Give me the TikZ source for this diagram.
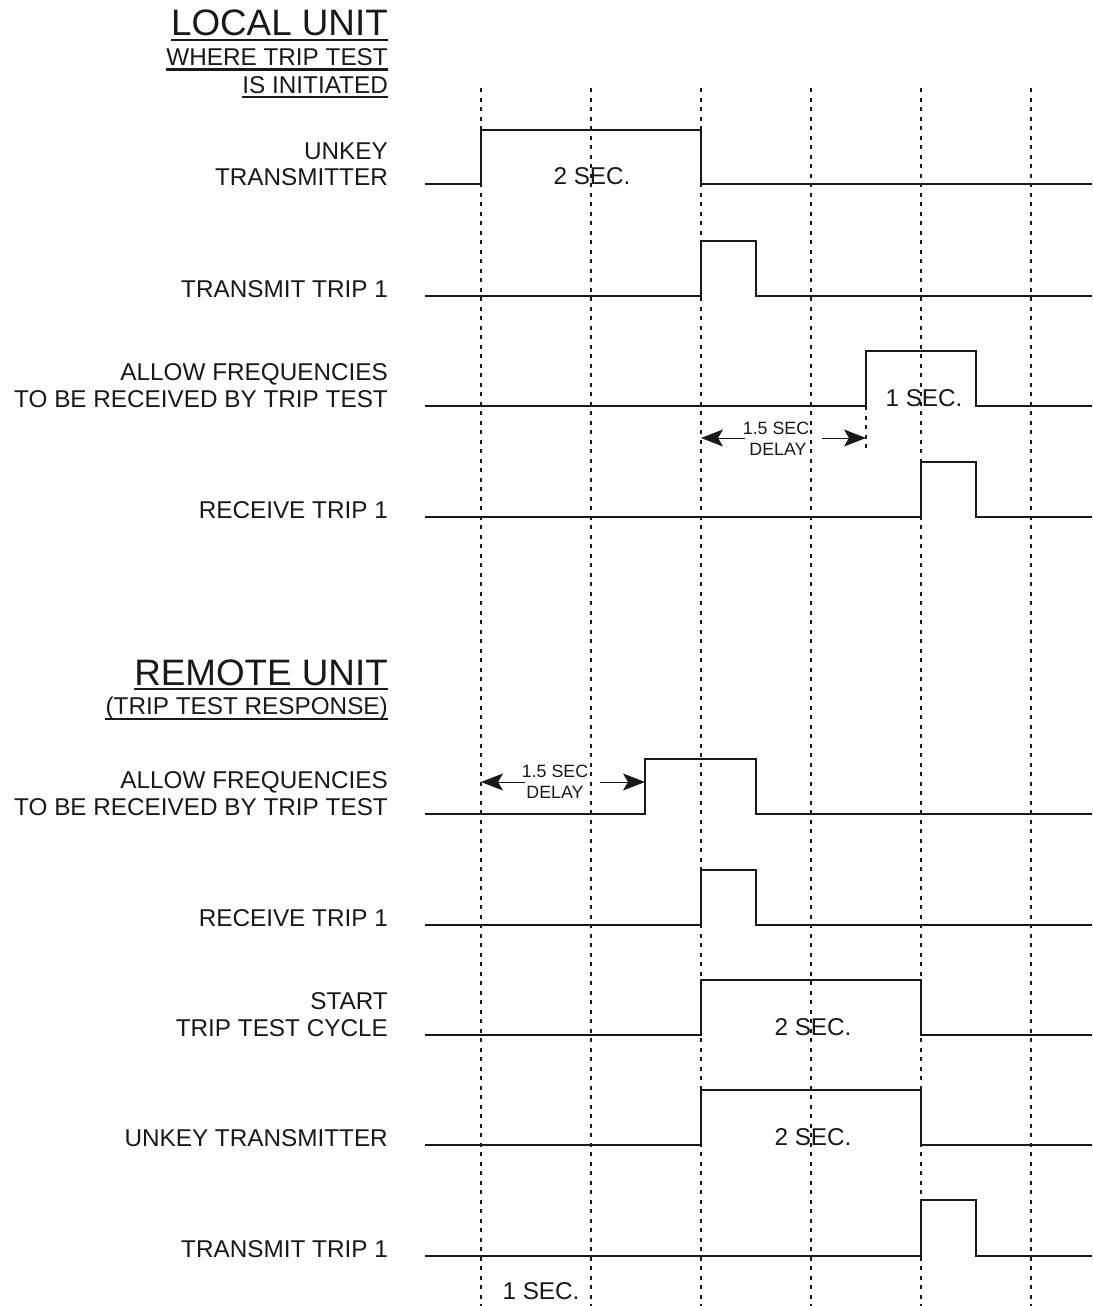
\documentclass[tikz,border=0pt]{standalone}
\usepackage{fontspec}
\setmainfont{Liberation Sans}
\usetikzlibrary{arrows.meta}
\begin{document}
\begin{tikzpicture}[x=1pt,y=-1pt,
  sig/.style={line width=2pt,line join=miter,color=black!90},
  gridline/.style={line width=2pt,dash pattern=on 4pt off 5.5pt,color=black!90},
  lbl/.style={anchor=base east,inner sep=0pt,font=\fontsize{24.3}{26}\selectfont,text=black!90},
  big/.style={anchor=base east,inner sep=0pt,font=\fontsize{36.8}{40}\selectfont,text=black!90},
  sec/.style={anchor=base,inner sep=0pt,font=\fontsize{24.3}{26}\selectfont,text=black!90},
  small/.style={anchor=base,inner sep=0pt,font=\fontsize{17.8}{19}\selectfont,text=black!90},
  uline/.style={line width=2.2pt,color=black!90},
  dim/.style={line width=1pt,color=black!90,-{Stealth[length=22pt,width=17pt,inset=5pt]}}
]
\useasboundingbox (0,0) rectangle (1092,1306);

% grid
\foreach \x in {481,591,701,811,921,1031}
  \draw[gridline] (\x,88) -- (\x,1306);

% headings
\node[big] (lu) at (388,36) {LOCAL UNIT};
\draw[uline] ([yshift=-4pt]lu.base west) -- ([yshift=-4pt]lu.base east);
\node[lbl] (wt) at (388,66) {WHERE TRIP TEST};
\draw[uline] ([yshift=-3.5pt]wt.base west) -- ([yshift=-3.5pt]wt.base east);
\node[lbl] (ii) at (388,93) {IS INITIATED};
\draw[uline] ([yshift=-4pt]ii.base west) -- ([yshift=-4pt]ii.base east);

\node[big] (ru) at (388,685) {REMOTE UNIT};
\draw[uline] ([yshift=-4pt]ru.base west) -- ([yshift=-4pt]ru.base east);
\node[lbl] (tr) at (388,714) {(TRIP TEST RESPONSE)};
\draw[uline] ([yshift=-5pt]tr.base west) -- ([yshift=-5pt]tr.base east);

% local labels
\node[lbl] (l1a) at (388,159.5) {UNKEY};
\node[lbl] (l1b) at (388,185.5) {TRANSMITTER};
\node[lbl] (l2) at (388,297) {TRANSMIT TRIP 1};
\node[lbl] (l3a) at (388,380) {ALLOW FREQUENCIES};
\node[lbl] (l3b) at (388,407) {TO BE RECEIVED BY TRIP TEST};
\node[lbl] (l4) at (388,518) {RECEIVE TRIP 1};

% remote labels
\node[lbl] (r1a) at (388,788) {ALLOW FREQUENCIES};
\node[lbl] (r1b) at (388,815) {TO BE RECEIVED BY TRIP TEST};
\node[lbl] (r2) at (388,926) {RECEIVE TRIP 1};
\node[lbl] (r3a) at (388,1009.5) {START};
\node[lbl] (r3b) at (388,1036) {TRIP TEST CYCLE};
\node[lbl] (r4) at (388,1146) {UNKEY TRANSMITTER};
\node[lbl] (r5) at (388,1257) {TRANSMIT TRIP 1};

% local signals
\draw[sig] (425,184) -- (481,184) -- (481,130) -- (701,130) -- (701,184) -- (1092,184);
\draw[sig] (425,296) -- (701,296) -- (701,241) -- (756,241) -- (756,296) -- (1092,296);
\draw[sig] (425,406) -- (866,406) -- (866,351) -- (976,351) -- (976,406) -- (1092,406);
\draw[sig] (425,517) -- (921,517) -- (921,462) -- (976,462) -- (976,517) -- (1092,517);

% remote signals
\draw[sig] (425,814) -- (645,814) -- (645,759) -- (756,759) -- (756,814) -- (1092,814);
\draw[sig] (425,925) -- (701,925) -- (701,870) -- (756,870) -- (756,925) -- (1092,925);
\draw[sig] (425,1035) -- (701,1035) -- (701,980) -- (921,980) -- (921,1035) -- (1092,1035);
\draw[sig] (425,1145) -- (701,1145) -- (701,1090) -- (921,1090) -- (921,1145) -- (1092,1145);
\draw[sig] (425,1256) -- (921,1256) -- (921,1200) -- (976,1200) -- (976,1256) -- (1092,1256);

% duration labels
\node[sec] (s1) at (592,184) {2 SEC.};
\node[sec] (s2) at (924,406) {1 SEC.};
\node[sec] (s3) at (813,1035) {2 SEC.};
\node[sec] (s4) at (813,1145) {2 SEC.};
\node[sec] (s5) at (541,1299) {1 SEC.};

% local delay
\draw[gridline] (866,406) -- (866,453);
\node[small] (d1a) at (776,434) {1.5 SEC};
\node[small] (d1b) at (778,455) {DELAY};
\coordinate (d1l0) at (745,438);
\coordinate (d1l) at (701,438);
\coordinate (d1r0) at (822,438);
\coordinate (d1r) at (866,438);
\draw[dim] (d1l0) -- (d1l);
\draw[dim] (d1r0) -- (d1r);

% remote delay
\node[small] (d2a) at (555,777) {1.5 SEC};
\node[small] (d2b) at (555,798) {DELAY};
\coordinate (d2l0) at (525,782);
\coordinate (d2l) at (481,782);
\coordinate (d2r0) at (600,782);
\coordinate (d2r) at (645,782);
\draw[dim] (d2l0) -- (d2l);
\draw[dim] (d2r0) -- (d2r);
\end{tikzpicture}
\end{document}
